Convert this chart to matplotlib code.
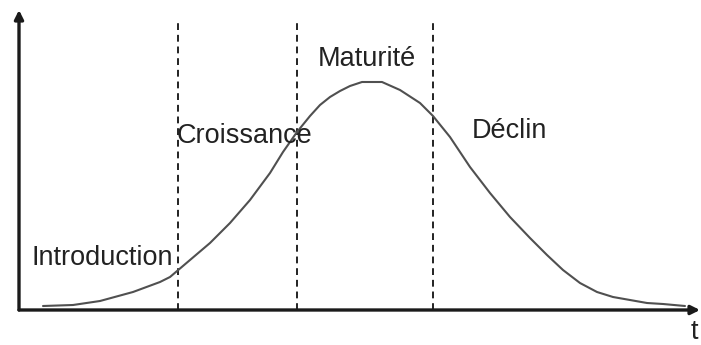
import matplotlib.pyplot as plt

# product life cycle curve
# t = time, ventes = sales (same arbitrary units as the sketch)
t = [24, 54, 81, 114, 141, 151, 171, 191, 211, 231, 251, 264, 278, 291,
     301, 311, 321, 331, 343, 363, 381, 401, 414, 431, 451, 471, 491, 511,
     528, 544, 561, 578, 594, 611, 628, 644, 666]
ventes = [4, 5, 9, 18, 28, 33, 50, 67, 87, 110, 137, 158, 178, 194,
          205, 213, 219, 224, 228, 228, 220, 207, 194, 173, 143, 117, 93, 72,
          55, 40, 27, 18, 13, 10, 7, 6, 4]

# phase boundaries
limites = [159, 278, 414]

phases = ["Introduction", "Croissance", "Maturité", "Déclin"]
phase_x = [13, 158, 299, 453]
phase_y = [45, 167, 244, 172]

plt.rcParams['font.family'] = ['Liberation Sans', 'DejaVu Sans']

fig = plt.figure(figsize=(7.01, 3.45), dpi=100)
ax = fig.add_axes([0, 0, 1, 1])
ax.set_xlim(-19, 682)
ax.set_ylim(-35, 310)
ax.axis('off')

# axes drawn as arrows
ax.annotate("", xy=(681, 0), xytext=(0, 0),
            arrowprops=dict(arrowstyle='-|>', lw=2.4, color='#1a1a1a',
                            mutation_scale=13, shrinkA=0, shrinkB=0))
ax.annotate("", xy=(0, 300), xytext=(0, 0),
            arrowprops=dict(arrowstyle='-|>', lw=2.4, color='#1a1a1a',
                            mutation_scale=13, shrinkA=0, shrinkB=0))

for x in limites:
    ax.plot([x, x], [0, 287], color='#222222', lw=1.4,
            linestyle=(0, (3.5, 2.5)))

ax.plot(t, ventes, color='#505050', lw=1.5, solid_capstyle='round',
        solid_joinstyle='round')

for label, x, y in zip(phases, phase_x, phase_y):
    ax.text(x, y, label, fontsize=19.5, color='#222222',
            ha='left', va='baseline')

ax.text(672, -29, "t", fontsize=19.5, color='#222222',
        ha='left', va='baseline')

fig.savefig("out.png", dpi=100, facecolor='white')
